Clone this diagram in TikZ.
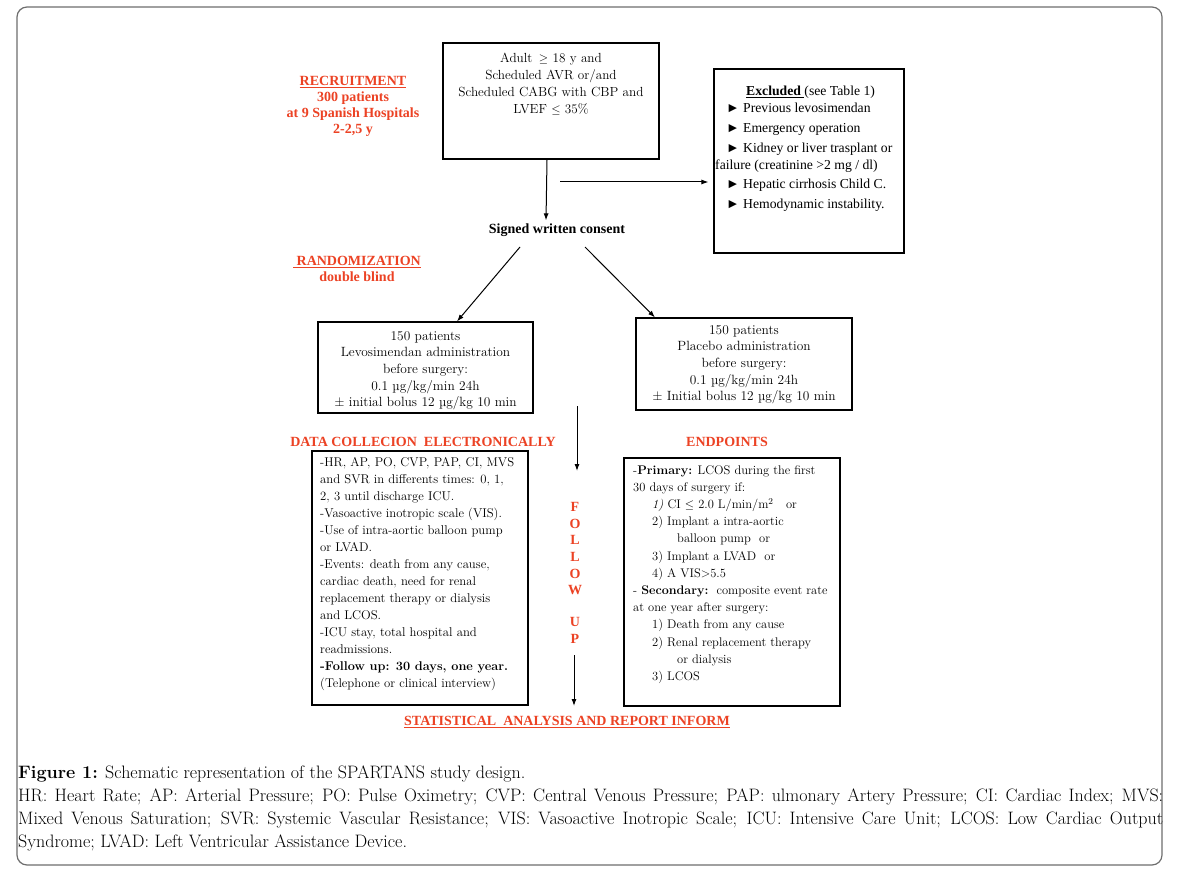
\documentclass[tikz,border=0pt]{standalone}
\usepackage{fontspec}
\newfontfamily\tnr{Liberation Serif}
\usetikzlibrary{arrows.meta}
\definecolor{rd}{RGB}{236,66,36}
\definecolor{framegray}{RGB}{110,110,110}
\begin{document}
\begin{tikzpicture}[x=1pt,y=-1pt,
  box/.style={draw, line width=1.1pt, inner sep=0pt},
  arr/.style={line width=1pt, -{Latex[length=7pt,width=5pt]}},
  redtxt/.style={text=rd, font=\tnr\bfseries\fontsize{14}{16}\selectfont, align=center, inner sep=0pt},
  gtxt/.style={font=\fontsize{12.7}{17}\selectfont, inner sep=0pt},
  captxt/.style={font=\fontsize{18}{20}\selectfont, inner sep=0pt, anchor=west},
]
\useasboundingbox (0,0) rectangle (1182,882);
\fill[white] (0,0) rectangle (1182,882);
\draw[framegray, line width=1.2pt, rounded corners=10pt] (17,7) rectangle (1162,865);

% boxes
\node[box, minimum width=216pt, minimum height=116pt] (top) at (551,101) {};
\node[box, minimum width=190pt, minimum height=184pt] (excl) at (809,161) {};
\node[box, minimum width=215pt, minimum height=91pt] (lbox) at (425.5,367.5) {};
\node[box, minimum width=216pt, minimum height=92pt] (rbox) at (744,364) {};
\node[box, minimum width=216pt, minimum height=254pt] (dbox) at (420,578) {};
\node[box, minimum width=216pt, minimum height=248pt] (ebox) at (732,582) {};

% box texts
\node[gtxt, font=\fontsize{13.2}{16.8}\selectfont, align=center, anchor=north] (toptxt) at (551,53)
  {Adult \,$\geq$ 18 y and\\Scheduled AVR or/and\\Scheduled CABG with CBP and\\LVEF $\leq$ 35\%};

\node[font=\tnr\fontsize{13.7}{17}\selectfont, align=left, anchor=north west, inner sep=0pt] (excltxt) at (715,86)
  {\hspace*{31pt}\underline{\textbf{Excluded }}(see Table 1)\\
   \hspace*{11pt}► Previous levosimendan\\[3pt]
   \hspace*{11pt}► Emergency operation\\[3pt]
   \hspace*{11pt}► Kidney or liver trasplant or\\
   failure (creatinine >2 mg / dl)\\[2pt]
   \hspace*{11pt}► Hepatic cirrhosis Child C.\\[3pt]
   \hspace*{11pt}► Hemodynamic instability.};

\node[gtxt, font=\fontsize{13.4}{16.7}\selectfont, align=center, anchor=north] (ltxt) at (425.5,331)
  {150 patients\\Levosimendan administration\\before surgery:\\0.1 µg/kg/min 24h\\± initial bolus 12 µg/kg 10 min};
\node[gtxt, font=\fontsize{13.4}{16.7}\selectfont, align=center, anchor=north] (rtxt) at (744,325)
  {150 patients\\Placebo administration\\before surgery:\\0.1 µg/kg/min 24h\\± Initial bolus 12 µg/kg 10 min};

\node[gtxt, align=left, anchor=north west] (dtxt) at (320,457)
  {-HR, AP, PO, CVP, PAP, CI, MVS\\and SVR in differents times: 0, 1,\\2, 3 until discharge ICU.\\-Vasoactive inotropic scale (VIS).\\-Use of intra-aortic balloon pump\\or LVAD.\\-Events: death from any cause,\\cardiac death, need for renal\\replacement therapy or dialysis\\and LCOS.\\-ICU stay, total hospital and\\readmissions.\\\textbf{-Follow up: 30 days, one year.}\\(Telephone or clinical interview)};

\node[gtxt, font=\fontsize{12.5}{17.2}\selectfont, align=left, anchor=north west] (etxt) at (633,465)
  {-\textbf{Primary:} LCOS during the first\\30 days of surgery if:\\
   \hspace*{19pt}\textit{1)} CI $\leq$ 2.0 L/min/m$^2$\quad or\\
   \hspace*{19pt}2) Implant a intra-aortic\\
   \hspace*{44pt}balloon pump\ \ or\\
   \hspace*{19pt}3) Implant a LVAD\ \ or\\
   \hspace*{19pt}4) A VIS>5.5\\
   - \textbf{Secondary:}\ \ composite event rate\\at one year after surgery:\\
   \hspace*{19pt}1) Death from any cause\\
   \hspace*{19pt}2) Renal replacement therapy\\
   \hspace*{44pt}or dialysis\\
   \hspace*{19pt}3) LCOS};

% red headings
\node[redtxt, anchor=north] (recr) at (353,76) {\underline{RECRUITMENT}\\300 patients\\at 9 Spanish Hospitals\\2-2,5 y};
\node[redtxt, anchor=north] (rand) at (357,256) {\underline{\ RANDOMIZATION}\\double blind};
\node[redtxt] (datah) at (423,442) {DATA COLLECION\ \ ELECTRONICALLY};
\node[redtxt] (endh) at (727,442) {ENDPOINTS};
\node[redtxt] (stat) at (567,722) {\underline{STATISTICAL\ \ ANALYSIS AND REPORT INFORM}};
\node[redtxt, anchor=north, font=\tnr\bfseries\fontsize{14}{16.7}\selectfont] (fol) at (575,502) {F\\O\\L\\L\\O\\W\\[15pt]U\\P};

\node[font=\tnr\bfseries\fontsize{14}{15}\selectfont, inner sep=1pt] (consent) at (557,230) {Signed written consent};

% connectors
\coordinate (hs) at (560,182);
\coordinate (d1) at (520,247);
\coordinate (d2) at (585,247);
\coordinate (f1) at (577,406);
\coordinate (f2) at (577,471);
\coordinate (f3) at (574,655);
\coordinate (f4) at (574,706);
\draw[arr] ([xshift=-4pt]top.south) -- ([xshift=-11pt,yshift=2pt]consent.north);
\draw[arr, shorten >=5pt] (hs) -- (hs -| excl.west);
\draw[arr] (d1) -- ([xshift=31.5pt]lbox.north);
\draw[arr] (d2) -- ([xshift=-89pt]rbox.north);
\draw[arr] (f1) -- (f2);
\draw[arr] (f3) -- (f4);

% caption
\node[captxt] (cap1) at (18,774) {\textbf{Figure 1:} Schematic representation of the SPARTANS study design.};
\node[captxt] (cap2) at (18,797) {\makebox[1145pt][s]{HR: Heart Rate; AP: Arterial Pressure; PO: Pulse Oximetry; CVP: Central Venous Pressure; PAP: ulmonary Artery Pressure; CI: Cardiac Index; MVS:}};
\node[captxt] (cap3) at (18,820) {\makebox[1145pt][s]{Mixed Venous Saturation; SVR: Systemic Vascular Resistance; VIS: Vasoactive Inotropic Scale; ICU: Intensive Care Unit; LCOS: Low Cardiac Output}};
\node[captxt] (cap4) at (18,843) {Syndrome; LVAD: Left Ventricular Assistance Device.};
\end{tikzpicture}
\end{document}
